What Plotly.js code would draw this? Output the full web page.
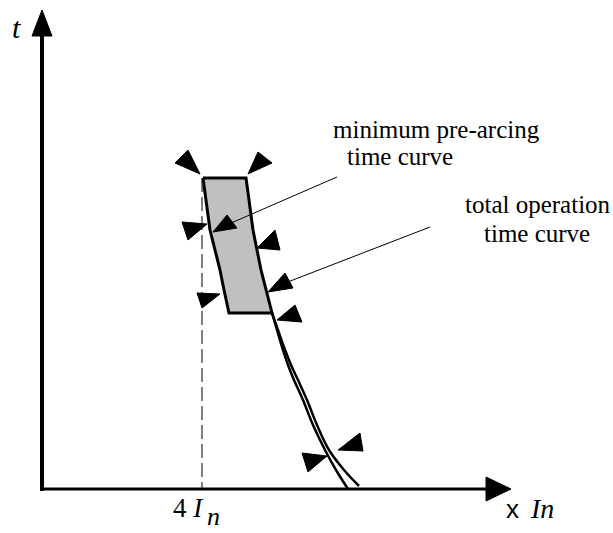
<!DOCTYPE html>
<html>
<head>
<meta charset="utf-8">
<script src="https://cdn.plot.ly/plotly-3.0.1.min.js"></script>
<style>html,body{margin:0;padding:0;background:#fff;}#chart{width:613px;height:533px;}</style>
</head>
<body>
<div id="chart"></div>
<script>
// Diagram drawn on a 613 x 533 canvas-like coordinate system (y grows downward)
// Axes
const timeAxisX = [42, 42];
const timeAxisY = [491, 30];
const currentAxisX = [40, 490];
const currentAxisY = [489, 489];
const timeArrowX = [32, 42, 52];
const timeArrowY = [36, 10, 36];
const currentArrowX = [486, 511, 486];
const currentArrowY = [477, 489, 501];

// 4 In reference (dashed)
const refLineX = [202, 202];
const refLineY = [178, 489];

// Tolerance band
const bandLeftX  = [203, 206, 210, 215, 220, 224, 229];
const bandLeftY  = [178, 200, 230, 250, 270, 290, 313];
const bandRightX = [246, 249, 253, 257, 261, 266, 272];
const bandRightY = [178, 200, 230, 250, 270, 290, 313];

// Lower curves
const preArcingCurveX = [272, 277, 282, 288, 294, 303, 313, 325, 336, 348];
const preArcingCurveY = [313, 330, 347, 365, 380, 400, 425, 450, 470, 489];
const totalCurveX = [272, 278, 284, 291, 298, 307, 317, 329, 344, 359];
const totalCurveY = [313, 330, 347, 365, 380, 400, 425, 450, 470, 486];

// Leader lines
const leader1X = [337, 222];
const leader1Y = [177, 227];
const leader2X = [430, 280];
const leader2Y = [227, 285];

// Arrowhead triangles
const trianglesX = [
  [175, 188, 200], [248, 258, 272], [182, 207, 188], [197, 220, 202],
  [257, 275, 280], [213, 227, 237], [268, 285, 293], [277, 295, 302],
  [302, 327, 308], [338, 360, 363]
];
const trianglesY = [
  [163, 150, 174], [174, 152, 163], [222, 224, 240], [293, 294, 308],
  [248, 230, 250], [232, 215, 228], [292, 273, 288], [320, 305, 322],
  [453, 456, 472], [450, 433, 451]
];

// Labels
const labelTexts = ["minimum pre-arcing", "time curve", "total operation", "time curve"];
const labelX = [436, 400, 538, 537];
const labelY = [129, 156, 204, 233];

const traces = [];
const line = (x, y, w, extra) => Object.assign({x, y, mode: 'lines', type: 'scatter', hoverinfo: 'skip',
  line: {color: '#000', width: w}}, extra || {});

const bandX = bandLeftX.concat(bandRightX.slice().reverse()).concat([bandLeftX[0]]);
const bandY = bandLeftY.concat(bandRightY.slice().reverse()).concat([bandLeftY[0]]);
traces.push(line(bandX, bandY, 3, {fill: 'toself', fillcolor: '#c0c0c0'}));

traces.push(line(refLineX, refLineY, 1, {line: {color: '#000', width: 1, dash: '14px,5px'}}));
traces.push(line(preArcingCurveX, preArcingCurveY, 2.5, {line: {color: '#000', width: 2.5, shape: 'spline'}}));
traces.push(line(totalCurveX, totalCurveY, 2.5, {line: {color: '#000', width: 2.5, shape: 'spline'}}));
traces.push(line(leader1X, leader1Y, 1));
traces.push(line(leader2X, leader2Y, 1));
traces.push(line(timeAxisX, timeAxisY, 4));
traces.push(line(currentAxisX, currentAxisY, 3));
traces.push(line(timeArrowX.concat([timeArrowX[0]]), timeArrowY.concat([timeArrowY[0]]), 1, {fill: 'toself', fillcolor: '#000'}));
traces.push(line(currentArrowX.concat([currentArrowX[0]]), currentArrowY.concat([currentArrowY[0]]), 1, {fill: 'toself', fillcolor: '#000'}));
for (let i = 0; i < trianglesX.length; i++) {
  traces.push(line(trianglesX[i].concat([trianglesX[i][0]]), trianglesY[i].concat([trianglesY[i][0]]), 1,
    {fill: 'toself', fillcolor: '#000'}));
}

const serif = "'Liberation Serif', 'Times New Roman', serif";
const ann = (text, x, y, size, family) => ({text, x, y, xref: 'x', yref: 'y', showarrow: false,
  xanchor: 'center', yanchor: 'middle', borderpad: 0,
  font: {family: family || serif, size: size || 24, color: '#000'}});

const annotations = [];
for (let i = 0; i < labelTexts.length; i++) annotations.push(ann(labelTexts[i], labelX[i], labelY[i], 25));
annotations.push(ann('<i>t</i>', 16, 27, 30));
annotations.push(ann('4 <i>I</i> ', 191, 508, 27));
annotations.push(ann('<i>n </i>', 217, 516, 26));
annotations.push(ann('x', 512, 509, 26, "'Liberation Sans', Arial, sans-serif"));
annotations.push(ann('<i>In </i>', 545, 508, 28));

const layout = {
  width: 613, height: 533,
  margin: {l: 0, r: 0, t: 0, b: 0},
  paper_bgcolor: '#fff', plot_bgcolor: '#fff',
  showlegend: false,
  xaxis: {range: [0, 613], visible: false, fixedrange: true},
  yaxis: {range: [533, 0], visible: false, fixedrange: true},
  annotations
};
Plotly.newPlot('chart', traces, layout, {staticPlot: true, displayModeBar: false});
</script>
</body>
</html>
